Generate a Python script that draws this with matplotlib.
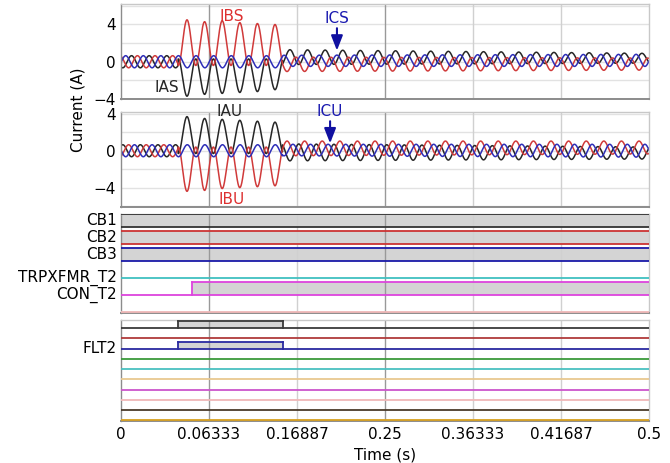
import numpy as np
import matplotlib
matplotlib.use("Agg")
import matplotlib.pyplot as plt

# eje de tiempo: marcas equiespaciadas con las etiquetas del registro
tick_labels = ["0", "0.06333", "0.16887", "0.25", "0.36333", "0.41687", "0.5"]
t_end = 0.5

# falla (FLT2) y cierre de CON_T2
t_fault_on = 0.054
t_fault_off = 0.153
t_con_on = 0.067

# corrientes: prefalla, picos por ciclo durante la falla y envolventes post-falla
pre_amp = 0.65
t_peak_a = 0.160          # pico de la fase A en regimen normal
t_fault_peak = 0.0625     # primer pico de la corriente de falla
ias_fault_trough = [-3.7, -3.5, -3.4, -3.3, -3.2, -3.0]
ias_fault_top = 0.3
ibs_fault_peak = [4.5, 4.3, 4.4, 4.2, 4.1, 4.0]
ibs_fault_bottom = -0.4
iau_fault_peak = [3.7, 3.5, 3.4, 3.3, 3.2, 3.1]
iau_fault_bottom = -0.3
ibu_fault_trough = [-4.4, -4.3, -4.1, -4.0, -3.9, -3.8]
ibu_fault_top = 0.4
# (max, min) al inicio y al final de la post-falla
ias_post = [(1.3, -0.3), (0.9, -0.15)]
ibs_post = [(0.5, -1.05), (0.4, -0.9)]
ics_post = [(0.7, -0.5), (0.8, -0.5)]
iau_post = [(0.75, -1.1), (0.4, -0.9)]
ibu_post = [(1.05, -0.55), (1.05, -0.35)]
icu_post = [(0.7, -0.55), (0.7, -0.7)]

# digitales
dig1_names = ["CB1", "CB2", "CB3", "TRPXFMR_T2", "CON_T2", ""]
dig1_colors = ["#333333", "#cc3333", "#1a1aa8", "#40c0c0", "#dd44dd", "#f0b8b8"]
dig2_names = ["", "", "FLT2", "", "", "", "", "", "", ""]
dig2_colors = ["#3a3a3a", "#b03a3a", "#2a2aa0", "#3a9a3a", "#4ac0c0",
               "#e8c890", "#cc55cc", "#f0b8b8", "#4a3a2a", "#d8a020"]

BLACK = "#262626"
RED = "#d03a3a"
BLUE = "#2e2eb8"

w = 2 * np.pi * 60
t = np.linspace(0, t_end, 5001)
pre = t < t_fault_on
flt = (t >= t_fault_on) & (t < t_fault_off)
post = t >= t_fault_off


def normal(ph_deg, amp=pre_amp, off=0.0):
    return off + amp * np.cos(w * (t - t_peak_a) + np.radians(ph_deg))


def post_wave(ph_deg, env):
    (mx0, mn0), (mx1, mn1) = env
    f = (t - t_fault_off) / (t_end - t_fault_off)
    off = (mx0 + mn0) / 2 + f * ((mx1 + mn1) / 2 - (mx0 + mn0) / 2)
    amp = (mx0 - mn0) / 2 + f * ((mx1 - mn1) / 2 - (mx0 - mn0) / 2)
    return off + amp * np.cos(w * (t - t_peak_a) + np.radians(ph_deg))


def fault_wave(extremes, other):
    k = np.clip(np.round((t - t_fault_peak) * 60).astype(int), 0, len(extremes) - 1)
    ext = np.array(extremes)[k]
    c = (1 + np.cos(w * (t - t_fault_peak))) / 2
    return other + (ext - other) * c


def build(ph_deg, post_env, fault=None):
    y = np.where(pre, normal(ph_deg), post_wave(ph_deg, post_env))
    if fault is None:
        y = np.where(flt, normal(ph_deg), y)
    else:
        y = np.where(flt, fault_wave(*fault), y)
    return y


ias = build(0, ias_post, (ias_fault_trough, ias_fault_top))
ibs = build(-120, ibs_post, (ibs_fault_peak, ibs_fault_bottom))
ics = build(120, ics_post)
iau = build(180, iau_post, (iau_fault_peak, iau_fault_bottom))
ibu = build(60, ibu_post, (ibu_fault_trough, ibu_fault_top))
icu = build(-60, icu_post)

W, H = 670, 463
fig = plt.figure(figsize=(6.7, 4.63), dpi=100)
left, right = 121 / W, 649 / W


def add_ax(top_px, bot_px):
    return fig.add_axes([left, 1 - bot_px / H, right - left, (bot_px - top_px) / H])


ax1 = add_ax(4, 99)
ax2 = add_ax(112, 207)
ax3 = add_ax(214, 313)
ax4 = add_ax(320, 421)

xt = np.linspace(0, t_end, len(tick_labels))
for ax in (ax1, ax2, ax3, ax4):
    ax.set_xlim(0, t_end)
    ax.set_xticks(xt)
    for i, x in enumerate(xt[1:-1]):
        ax.axvline(x, color="#999999" if i in (0, 2) else "#d0d0d0", lw=1, zorder=1.5)
    for s in ax.spines.values():
        s.set_color("#c8c8c8")
        s.set_linewidth(1)
    ax.spines["left"].set_color("#8c8c8c")
    ax.spines["bottom"].set_color("#8c8c8c")
    ax.spines["bottom"].set_linewidth(1.4)
    ax.tick_params(length=0, labelsize=11, pad=4)
    if ax is not ax4:
        ax.tick_params(labelbottom=False)

ax4.set_xticklabels(tick_labels)
ax4.set_xlabel("Time (s)", fontsize=11, labelpad=4)

# corrientes
for ax, series, ylim in ((ax1, (ias, ibs, ics), (-4, 6.2)), (ax2, (iau, ibu, icu), (-6.1, 4.2))):
    for y0 in range(-6, 8, 2):
        ax.axhline(y0, color="#e2e2e2", lw=1, zorder=0)
    for y, c in zip(series, (BLACK, RED, BLUE)):
        ax.plot(t, y, color=c, lw=1.1, zorder=2)
    ax.set_ylim(*ylim)
    ax.set_yticks([-4, 0, 4])
    ax.set_yticklabels(["\u22124", "0", "4"])

ax1.text(0.105, 4.9, "IBS", color="#dd3030", fontsize=11, ha="center", va="center")
ax1.text(0.0436, -2.75, "IAS", color=BLACK, fontsize=11, ha="center", va="center")
ax1.text(0.2045, 4.65, "ICS", color="#1a1ab0", fontsize=11, ha="center", va="center")
ax1.annotate("", xy=(0.2045, 0.9), xytext=(0.2045, 3.9),
             arrowprops=dict(arrowstyle="-|>,head_width=0.35,head_length=0.9",
                             color="#1010a0", lw=1.5))
ax2.text(0.103, 4.25, "IAU", color=BLACK, fontsize=11, ha="center", va="center", clip_on=False)
ax2.text(0.198, 4.25, "ICU", color="#1a1ab0", fontsize=11, ha="center", va="center", clip_on=False)
ax2.text(0.105, -5.3, "IBU", color="#dd3030", fontsize=11, ha="center", va="center")
ax2.annotate("", xy=(0.198, 0.5), xytext=(0.198, 3.5),
             arrowprops=dict(arrowstyle="-|>,head_width=0.35,head_length=0.9",
                             color="#1010a0", lw=1.5))

fig.text(78 / W, 1 - 110 / H, "Current (A)", rotation=90, fontsize=11, ha="center", va="center")


def digital(ax, row, color, spans, high):
    base = -row
    ax.plot([0, t_end], [base, base], color=color, lw=1.3, zorder=3)
    for a, b in spans:
        ax.fill_between([a, b], base, base + high, color="#d4d4d4", lw=0, zorder=1)
        ax.plot([a, b], [base + high, base + high], color=color, lw=1.3, zorder=3)
        # solo se dibujan los flancos dentro de la ventana
        for e in (a, b):
            if 0 < e < t_end:
                ax.plot([e, e], [base, base + high], color=color, lw=1.3, zorder=3)


# panel de interruptores
dig1_spans = [[(0, t_end)], [(0, t_end)], [(0, t_end)], [], [(t_con_on, t_end)], []]
for i, (n, c, sp) in enumerate(zip(dig1_names, dig1_colors, dig1_spans)):
    digital(ax3, i, c, sp, 0.76)
    if n:
        ax3.text(-0.004, -i + 0.38 if i < 3 else -i, n, fontsize=11, ha="right", va="center")
ax3.set_ylim(-5.06, 0.78)
ax3.set_yticks([])

# panel de falla
dig2_spans = [[(t_fault_on, t_fault_off)], [], [(t_fault_on, t_fault_off)]] + [[]] * 7
for i, (n, c, sp) in enumerate(zip(dig2_names, dig2_colors, dig2_spans)):
    digital(ax4, i, c, sp, 0.68)
    if n:
        ax4.text(-0.004, -i, n, fontsize=11, ha="right", va="center")
ax4.set_ylim(-9.05, 0.78)
ax4.set_yticks([])

fig.savefig("out.png", dpi=100)
